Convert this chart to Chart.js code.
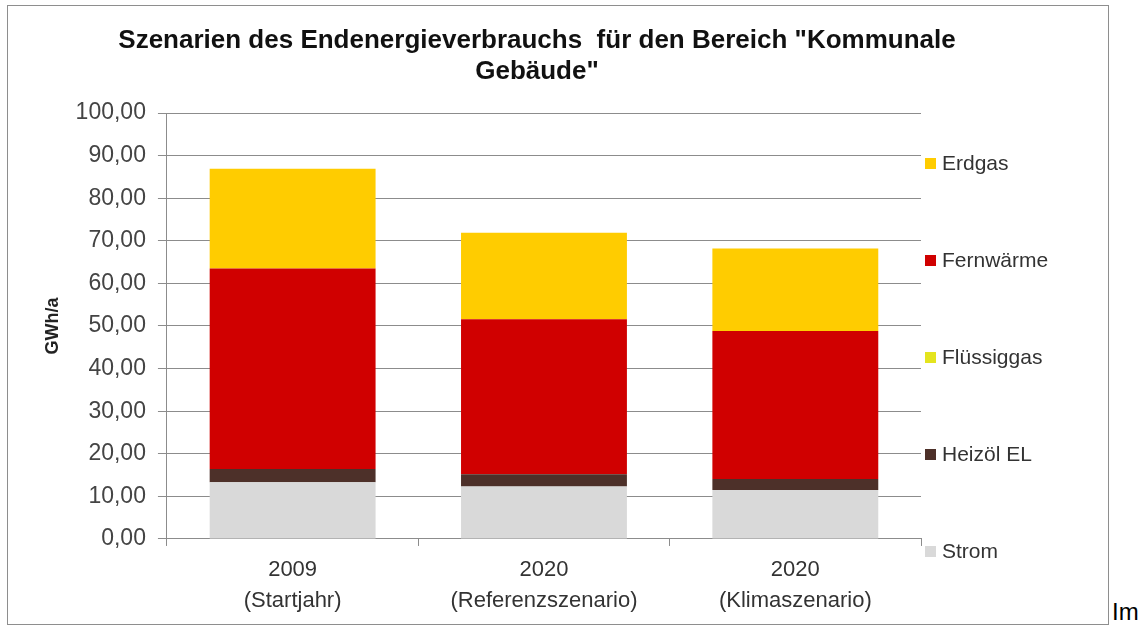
<!DOCTYPE html>
<html lang="de">
<head>
  <meta charset="UTF-8">
  <title>Szenarien des Endenergieverbrauchs - Kommunale Gebäude</title>
  <script src="https://cdn.jsdelivr.net/npm/chart.js"></script>
  <style>
    body { margin: 0; background: #fff; width: 1144px; height: 625px; overflow: hidden; position: relative; }
    #frame {
      position: absolute; left: 7px; top: 5px; width: 1102px; height: 620px;
      box-sizing: border-box; border: 1px solid #8e8e8e; background: #fff;
    }
    #wrap { position: relative; width: 1100px; height: 618px; }
    #after {
      position: absolute; left: 1112px; top: 600px;
      font: 24px/24px "Liberation Sans", Arial, sans-serif; color: #000;
    }
  </style>
</head>
<body>
  <div id="frame"><div id="wrap"><canvas id="energyChart"></canvas></div></div>
  <span id="after">Im</span>
  <script>
    // Endenergieverbrauch kommunale Gebäude in GWh/a
    const categories = [['2009', '(Startjahr)'], ['2020', '(Referenzszenario)'], ['2020', '(Klimaszenario)']];
    const strom = [13.3, 12.3, 11.5];
    const heizoel = [3.1, 2.9, 2.6];
    const fluessiggas = [0, 0, 0];
    const fernwaerme = [47.1, 36.4, 34.7];
    const erdgas = [23.4, 20.3, 19.4];
    const titleLines = ['Szenarien des Endenergieverbrauchs  für den Bereich "Kommunale', 'Gebäude"'];

    const grey = '#8c8c8c';
    Chart.defaults.font.family = "'Liberation Sans', Arial, sans-serif";

    // title and legend drawn by hand so they sit where the sheet had them
    const decorations = {
      id: 'decorations',
      afterDraw(chart) {
        const ctx = chart.ctx;
        ctx.save();
        ctx.fillStyle = '#111';
        ctx.font = "bold 26px 'Liberation Sans', Arial, sans-serif";
        ctx.textAlign = 'center';
        ctx.textBaseline = 'middle';
        titleLines.forEach((t, i) => ctx.fillText(t, 529, 35 + i * 31));

        // legend, top entry = top segment of the stack
        const sets = chart.data.datasets.slice().reverse();
        const x0 = chart.chartArea.right + 4;
        ctx.font = "21px 'Liberation Sans', Arial, sans-serif";
        ctx.textAlign = 'left';
        sets.forEach((ds, i) => {
          const y = 157 + i * 97;
          ctx.fillStyle = ds.backgroundColor;
          ctx.fillRect(x0, y - 5, 11, 11);
          ctx.fillStyle = '#333';
          ctx.fillText(ds.label, x0 + 17, y + 1);
        });
        ctx.restore();
      }
    };

    new Chart(document.getElementById('energyChart'), {
      type: 'bar',
      data: {
        labels: categories,
        datasets: [
          { label: 'Strom', data: strom, backgroundColor: '#d9d9d9' },
          { label: 'Heizöl EL', data: heizoel, backgroundColor: '#4d3029' },
          { label: 'Flüssiggas', data: fluessiggas, backgroundColor: '#e4e41e' },
          { label: 'Fernwärme', data: fernwaerme, backgroundColor: '#d00000' },
          { label: 'Erdgas', data: erdgas, backgroundColor: '#ffcc00' }
        ]
      },
      options: {
        responsive: true,
        maintainAspectRatio: false,
        animation: false,
        devicePixelRatio: 1,
        categoryPercentage: 0.66,
        barPercentage: 1,
        layout: { padding: { top: 107, right: 187, bottom: 0, left: 27 } },
        plugins: {
          legend: { display: false },
          title: { display: false },
          tooltip: { enabled: false }
        },
        scales: {
          x: {
            stacked: true,
            border: { color: grey, width: 1 },
            grid: { drawOnChartArea: false, color: grey, tickLength: 7, offset: true },
            ticks: {
              color: '#333', padding: 8,
              font: { size: 22, lineHeight: 1.41 },
              maxRotation: 0, autoSkip: false
            }
          },
          y: {
            stacked: true,
            min: 0,
            max: 100,
            border: { color: grey, width: 1 },
            grid: { color: grey, lineWidth: 1, tickLength: 9 },
            ticks: {
              stepSize: 10, color: '#444', padding: 12,
              font: { size: 23 },
              callback: v => v.toFixed(2).replace('.', ',')
            },
            title: {
              display: true, text: 'GWh/a', color: '#222',
              font: { size: 18, weight: 'bold' },
              padding: { top: 7, bottom: 0 }
            }
          }
        }
      },
      plugins: [decorations]
    });
  </script>
</body>
</html>
